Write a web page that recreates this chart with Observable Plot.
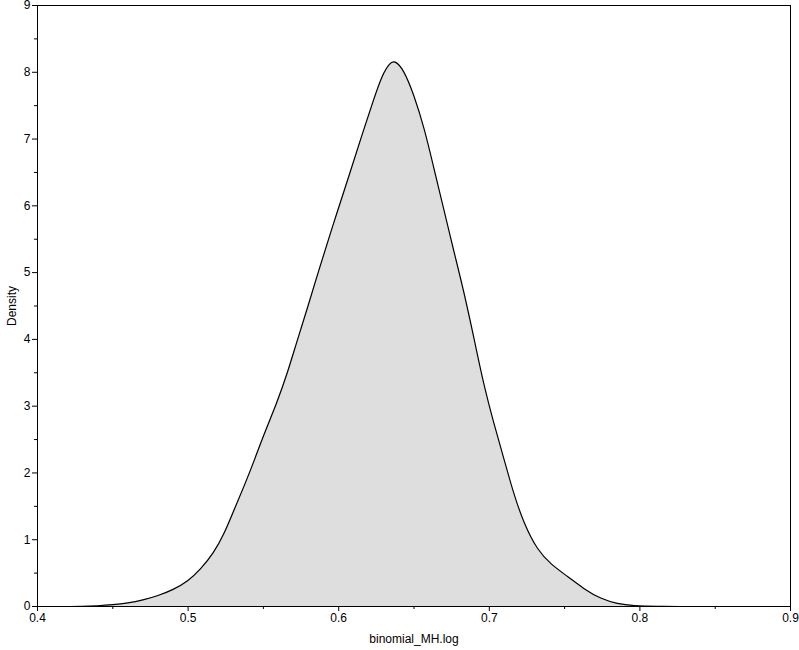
<!DOCTYPE html>
<html>
<head>
<meta charset="utf-8">
<script src="https://cdn.jsdelivr.net/npm/d3@7"></script>
<script src="https://cdn.jsdelivr.net/npm/@observablehq/plot@0.6"></script>
<style>
  html, body { margin: 0; padding: 0; background: #fff; }
  #chart svg { display: block; }
</style>
</head>
<body>
<div id="chart"></div>
<script>
const xs = [0.42, 0.43, 0.44, 0.45, 0.46, 0.47, 0.48, 0.49, 0.50, 0.508, 0.517, 0.524, 0.530, 0.537, 0.544, 0.550, 0.559, 0.566, 0.572, 0.579, 0.586, 0.596, 0.607, 0.616, 0.623, 0.629, 0.634, 0.637, 0.643, 0.650, 0.657, 0.663, 0.670, 0.676, 0.683, 0.690, 0.696, 0.703, 0.710, 0.716, 0.723, 0.732, 0.741, 0.752, 0.763, 0.774, 0.785, 0.796, 0.81, 0.83];
const densities = [0, 0.002, 0.01, 0.025, 0.05, 0.095, 0.16, 0.25, 0.38, 0.55, 0.80, 1.09, 1.42, 1.79, 2.19, 2.56, 3.05, 3.50, 3.95, 4.45, 4.98, 5.70, 6.46, 7.10, 7.58, 7.97, 8.14, 8.18, 8.05, 7.66, 7.15, 6.58, 5.93, 5.36, 4.73, 4.00, 3.35, 2.74, 2.19, 1.70, 1.24, 0.84, 0.63, 0.45, 0.26, 0.115, 0.04, 0.01, 0.002, 0];
const xMajorTicks = [0.4, 0.5, 0.6, 0.7, 0.8, 0.9];
const xMinorTicks = [0.45, 0.55, 0.65, 0.75, 0.85];
const yMajorTicks = [0, 1, 2, 3, 4, 5, 6, 7, 8, 9];
const yMinorTicks = [0.5, 1.5, 2.5, 3.5, 4.5, 5.5, 6.5, 7.5, 8.5];
const xLabel = "binomial_MH.log";
const yLabel = "Density";

const data = xs.map((x, i) => ({x, y: densities[i]}));

const chart = Plot.plot({
  width: 799,
  height: 650,
  marginLeft: 37,
  marginRight: 9,
  marginTop: 5,
  marginBottom: 44,
  style: {fontFamily: "'Liberation Sans', Arial, sans-serif", fontSize: "12px", color: "#000", background: "#fff"},
  x: {domain: [0.4, 0.9]},
  y: {domain: [0, 9]},
  marks: [
    Plot.areaY(data, {x: "x", y: "y", fill: "#dedede", curve: "basis"}),
    Plot.lineY(data, {x: "x", y: "y", stroke: "#000", strokeWidth: 1.2, curve: "basis"}),
    Plot.frame({stroke: "#000", strokeWidth: 1}),
    Plot.axisX(xMajorTicks, {tickSize: 5, tickPadding: 2, tickFormat: d => String(d), label: xLabel, labelAnchor: "center", labelArrow: "none", labelOffset: 36, stroke: "#000", fontSize: 12}),
    Plot.axisX(xMinorTicks, {tickSize: 3, tickFormat: () => "", label: null, stroke: "#000"}),
    Plot.axisY(yMajorTicks, {tickSize: 5, tickPadding: 2, tickFormat: d => String(d), label: yLabel, labelAnchor: "center", labelArrow: "none", labelOffset: 30, stroke: "#000", fontSize: 12}),
    Plot.axisY(yMinorTicks, {tickSize: 3, tickFormat: () => "", label: null, stroke: "#000"})
  ]
});
document.getElementById("chart").appendChild(chart);
</script>
</body>
</html>
